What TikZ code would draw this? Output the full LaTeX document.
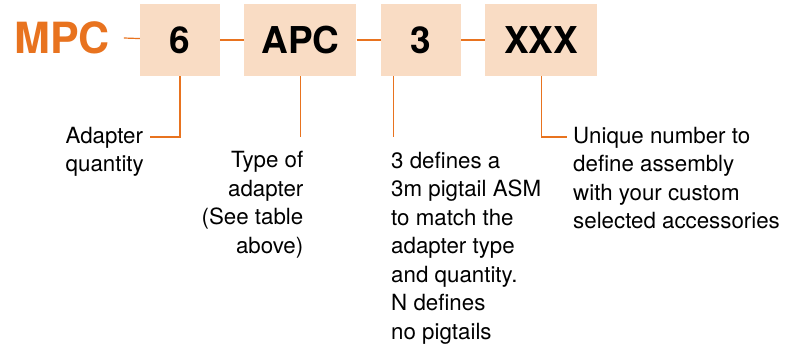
\documentclass[tikz,border=0pt]{standalone}
\usepackage{fontspec}
\setmainfont{TeX Gyre Heros}
\usepackage{xcolor}
\usetikzlibrary{positioning}
\definecolor{mpcorange}{HTML}{E8731F}
\definecolor{codefill}{HTML}{F9DCC4}

\begin{document}
\begin{tikzpicture}[
  x=1pt, y=-1pt,
  code/.style={fill=codefill, minimum height=72pt, inner sep=0pt, font=\fontsize{37}{37}\selectfont\bfseries},
  lead/.style={draw=mpcorange, line width=1.2pt},
  note/.style={font=\fontsize{22.3}{28.5}\selectfont, inner sep=0pt}
]
  \useasboundingbox (0,0) rectangle (799,349);
  % part number boxes
  \node[font=\fontsize{43}{43}\selectfont\bfseries, text=mpcorange, inner sep=0pt] (mpc) at (62,38) {MPC};
  \node[code, minimum width=80pt] (qty) at (180,40) {6};
  \node[code, minimum width=112pt, right=24pt of qty] (type) {APC};
  \node[code, minimum width=80pt, right=24pt of type] (pig) {3};
  \node[code, minimum width=112pt, right=24pt of pig] (uniq) {XXX};
  \draw[lead] ([xshift=14pt]mpc.east) -- (qty);
  \draw[lead] (qty) -- (type);
  \draw[lead] (type) -- (pig);
  \draw[lead] (pig) -- (uniq);
  % leader ends
  \coordinate (qtyend) at (150,137);
  \coordinate (typeend) at (type.south |- 0,137);
  \coordinate (pigend) at ([xshift=-27pt]pig.south |- 0,137);
  \coordinate (uniqend) at (567,137);
  % notes (base = last line)
  \node[note, align=left, anchor=base east] (qtynote) at (144,171.5) {Adapter\\quantity};
  \node[note, align=right, anchor=base east] (typenote) at (303.5,253) {Type of\\adapter\\(See table\\above)};
  \node[note, align=left, anchor=base west] (pignote) at (391,339) {3 defines a\\3m pigtail ASM\\to match the\\adapter type\\and quantity.\\N defines\\no pigtails};
  \node[note, align=left, anchor=base west] (uniqnote) at (573,228.5) {Unique number to\\define assembly\\with your custom\\selected accessories};
  \draw[lead] (qty.south) |- (qtyend);
  \draw[lead] (type.south) -- (typeend);
  \draw[lead] (pig.south -| pigend) -- (pigend);
  \draw[lead] (uniq.south) |- (uniqend);
\end{tikzpicture}
\end{document}
